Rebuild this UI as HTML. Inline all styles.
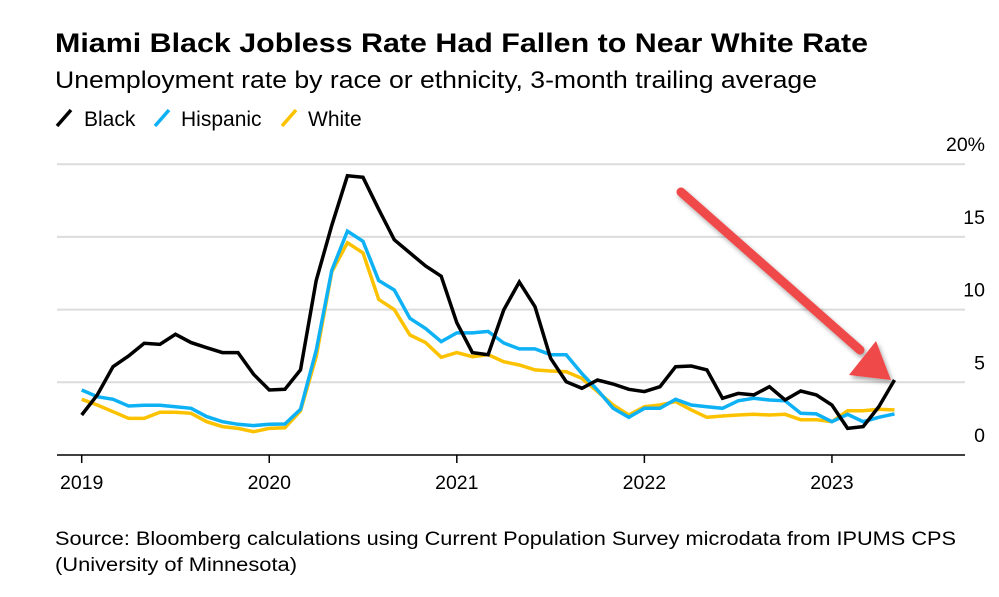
<!DOCTYPE html>
<html><head><meta charset="utf-8"><style>
html,body{margin:0;padding:0;background:#fff;}
svg{display:block;font-family:"Liberation Sans",Arial,sans-serif;}
</style></head><body>
<svg id="chart" width="999" height="597" viewBox="0 0 999 597">
<defs><filter id="sh" x="-20%" y="-20%" width="140%" height="140%"><feDropShadow dx="2" dy="3" stdDeviation="2.5" flood-color="#000" flood-opacity="0.35"/></filter></defs>
<text x="55" y="52" font-size="27" font-weight="bold" fill="#000" textLength="813" lengthAdjust="spacingAndGlyphs">Miami Black Jobless Rate Had Fallen to Near White Rate</text>
<text x="55" y="88" font-size="24" fill="#000" textLength="762" lengthAdjust="spacingAndGlyphs">Unemployment rate by race or ethnicity, 3-month trailing average</text>
<g>
<g><line x1="57" y1="126" x2="71" y2="110" stroke="#000" stroke-width="3.5"/><text x="84" y="126" font-size="21">Black</text></g>
<g><line x1="155" y1="126" x2="169" y2="110" stroke="#0fb1f5" stroke-width="3.5"/><text x="181" y="126" font-size="21">Hispanic</text></g>
<g><line x1="282" y1="126" x2="296" y2="110" stroke="#fcc200" stroke-width="3.5"/><text x="308" y="126" font-size="21">White</text></g>
</g>
<g id="grid"></g>
<g id="yticks"></g>
<g id="xaxis"></g>
<g id="series"></g>
<g filter="url(#sh)">
<line x1="681" y1="192" x2="860" y2="350" stroke="#f04848" stroke-width="9" stroke-linecap="round"/>
<polygon points="849,375 876,341 891,380" fill="#f04848"/>
</g>
<text x="55" y="545" font-size="19" fill="#000" textLength="901" lengthAdjust="spacingAndGlyphs">Source: Bloomberg calculations using Current Population Survey microdata from IPUMS CPS</text>
<text x="55" y="571" font-size="19" fill="#000" textLength="242" lengthAdjust="spacingAndGlyphs">(University of Minnesota)</text>
</svg>
<script>
const yTicks=[0,5,10,15,20];
const yTickLabels=["0","5","10","15","20%"];
const xYears=["2019","2020","2021","2022","2023"];
const black=[2.75,4.13,6.07,6.81,7.68,7.61,8.3,7.73,7.38,7.04,7.04,5.55,4.47,4.52,5.85,12.0,15.8,19.2,19.1,16.9,14.8,13.9,13.0,12.3,9.1,7.04,6.9,9.97,11.9,10.2,6.65,5.04,4.59,5.16,4.88,4.52,4.36,4.7,6.07,6.12,5.85,3.9,4.24,4.13,4.7,3.78,4.4,4.13,3.44,1.83,1.95,3.32,5.16];
const hispanic=[4.47,4.01,3.83,3.37,3.42,3.42,3.32,3.21,2.64,2.29,2.11,2.02,2.11,2.13,3.14,7.2,12.7,15.4,14.7,12.0,11.35,9.4,8.7,7.8,8.4,8.4,8.5,7.7,7.3,7.3,6.9,6.9,5.6,4.47,3.21,2.59,3.21,3.21,3.83,3.44,3.32,3.21,3.73,3.9,3.78,3.73,2.87,2.83,2.29,2.8,2.29,2.59,2.83];
const white=[3.83,3.44,2.98,2.52,2.52,2.94,2.94,2.87,2.29,1.95,1.83,1.6,1.83,1.87,3.03,6.76,12.6,14.6,13.9,10.7,10.0,8.25,7.73,6.72,7.04,6.76,6.9,6.42,6.19,5.85,5.78,5.73,5.27,4.36,3.44,2.75,3.32,3.44,3.67,3.1,2.59,2.68,2.75,2.8,2.75,2.8,2.43,2.43,2.29,3.05,3.05,3.14,3.1];
const NS="http://www.w3.org/2000/svg";
const x=m=>81.7+15.63*m;
const y=v=>455-14.54*v;
function mk(tag,attrs,parent){const e=document.createElementNS(NS,tag);for(const k in attrs)e.setAttribute(k,attrs[k]);parent.appendChild(e);return e;}
const grid=document.getElementById('grid'),yt=document.getElementById('yticks'),xa=document.getElementById('xaxis'),se=document.getElementById('series');
yTicks.forEach((t,i)=>{
 if(t>0){const g=mk('line',{x1:57,x2:965,y1:y(t),y2:y(t),stroke:'#dcdcdc','stroke-width':2},grid);
 
 }
 const tx=mk('text',{x:985,y:y(t)-13,'font-size':19.5,'text-anchor':'end',fill:'#000'},yt);
 tx.textContent=yTickLabels[i];
 
 
});
const ax=mk('line',{x1:57,x2:965,y1:455,y2:455,stroke:'#000','stroke-width':1.5},xa);


xYears.forEach((yr,i)=>{
 const px=x(i*12);
 const tk=mk('line',{x1:px,x2:px,y1:455,y2:463,stroke:'#000','stroke-width':1.5},xa);
 
 
 const tx=mk('text',{x:px,y:489,'font-size':19.5,'text-anchor':'middle',fill:'#000'},xa);
 tx.textContent=yr;
 
 
});
function line(data,color,name){
 const d=data.map((v,i)=>(i?'L':'M')+x(i).toFixed(1)+','+y(v).toFixed(1)).join('');
 const p=mk('path',{d:d,fill:'none',stroke:color,'stroke-width':3.5,'stroke-linejoin':'miter'},se);
 
 
}
line(white,'#fcc200','white-series-line');
line(hispanic,'#0fb1f5','hispanic-series-line');
line(black,'#000','black-series-line');
</script>
</body></html>
